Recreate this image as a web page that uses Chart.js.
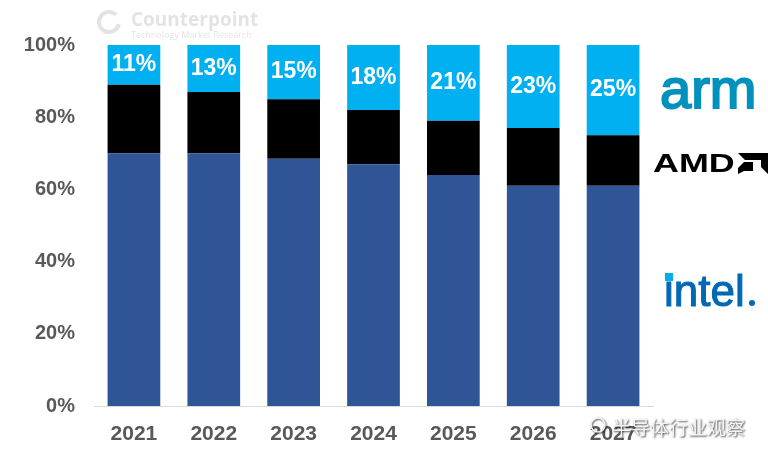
<!DOCTYPE html>
<html>
<head>
<meta charset="utf-8">
<script src="https://cdn.jsdelivr.net/npm/chart.js@4.4.1/dist/chart.umd.min.js"></script>
<style>
  html, body { margin: 0; padding: 0; background: #fff; }
  #wrap { width: 768px; height: 461px; position: relative; }
</style>
</head>
<body>
<div id="wrap"><canvas id="share"></canvas></div>
<script>
const years = ['2021', '2022', '2023', '2024', '2025', '2026', '2027'];
const intelShare = [70, 70, 68.5, 67, 64, 61, 61];
const amdShare = [19, 17, 16.5, 15, 15, 16, 14];
const armShare = [11, 13, 15, 18, 21, 23, 25];
const yTicks = [0, 20, 40, 60, 80, 100];

// white % labels inside the arm segment
const armLabels = {
  id: 'armLabels',
  afterDatasetsDraw(chart) {
    const ctx = chart.ctx;
    const meta = chart.getDatasetMeta(2);
    ctx.save();
    ctx.fillStyle = '#fff';
    ctx.font = 'bold 23px "Liberation Sans", Arial, sans-serif';
    ctx.textAlign = 'center';
    ctx.textBaseline = 'middle';
    meta.data.forEach((bar, i) => {
      const mid = (bar.y + bar.base) / 2;
      ctx.fillText(armShare[i] + '%', bar.x, mid);
    });
    ctx.restore();
  }
};

// logos on the right + watermarks
const extras = {
  id: 'extras',
  afterDraw(chart) {
    const ctx = chart.ctx;
    ctx.save();
    ctx.textBaseline = 'alphabetic';
    ctx.textAlign = 'left';

    // arm
    ctx.fillStyle = '#0091bd';
    ctx.strokeStyle = '#0091bd';
    ctx.lineWidth = 2;
    ctx.font = '56px "Liberation Sans", Arial, sans-serif';
    ctx.fillText('arm', 660, 108);
    ctx.strokeText('arm', 660, 108);

    // AMD (wide letters)
    ctx.save();
    ctx.translate(653, 172);
    ctx.scale(1.38, 1);
    ctx.fillStyle = '#000';
    ctx.font = 'bold 26px "Liberation Sans", Arial, sans-serif';
    ctx.fillText('AMD', 0, 0);
    ctx.restore();
    // AMD arrow symbol
    ctx.fillStyle = '#000';
    ctx.beginPath();
    ctx.moveTo(738, 153); ctx.lineTo(768, 153); ctx.lineTo(768, 174);
    ctx.lineTo(761, 167); ctx.lineTo(761, 160); ctx.lineTo(745, 160);
    ctx.closePath(); ctx.fill();
    ctx.beginPath();
    ctx.moveTo(744, 162); ctx.lineTo(753, 162); ctx.lineTo(753, 171);
    ctx.lineTo(744, 171); ctx.lineTo(738, 174); ctx.lineTo(738, 168);
    ctx.closePath(); ctx.fill();

    // intel
    ctx.fillStyle = '#0068b5';
    ctx.strokeStyle = '#0068b5';
    ctx.lineWidth = 1;
    ctx.font = '44px "Liberation Sans", Arial, sans-serif';
    ctx.fillText('intel', 664, 306);
    ctx.strokeText('intel', 664, 306);
    ctx.beginPath();
    ctx.arc(752, 303, 3, 0, Math.PI * 2);
    ctx.fill();
    ctx.fillStyle = '#00aeef';
    ctx.fillRect(665, 273, 8, 8);

    // Counterpoint watermark
    ctx.globalAlpha = 0.15;
    ctx.strokeStyle = '#444';
    ctx.lineWidth = 4;
    ctx.beginPath();
    ctx.arc(109, 22, 10, 0.2, Math.PI * 1.75);
    ctx.stroke();
    ctx.fillStyle = '#444';
    ctx.font = 'bold 19px "Open Sans", "Liberation Sans", sans-serif';
    ctx.fillText('Counterpoint', 131, 26);
    ctx.font = '9px "Open Sans", "Liberation Sans", sans-serif';
    ctx.fillText('Technology Market Research', 131, 38);
    ctx.globalAlpha = 1;

    // WeChat watermark
    ctx.font = '19px "Noto Sans CJK SC", sans-serif';
    ctx.fillStyle = '#f4f4f4';
    ctx.shadowColor = 'rgba(0,0,0,0.75)';
    ctx.shadowBlur = 2;
    ctx.shadowOffsetX = 1;
    ctx.shadowOffsetY = 1;
    ctx.fillText('半导体行业观察', 612, 435);
    ctx.strokeStyle = '#f4f4f4';
    ctx.lineWidth = 1.5;
    ctx.beginPath();
    ctx.arc(598, 425, 7, 0, Math.PI * 2);
    ctx.stroke();
    ctx.restore();
  }
};

new Chart(document.getElementById('share'), {
  type: 'bar',
  data: {
    labels: years,
    datasets: [
      { label: 'Intel', data: intelShare, backgroundColor: '#2f5597' },
      { label: 'AMD', data: amdShare, backgroundColor: '#000000' },
      { label: 'Arm', data: armShare, backgroundColor: '#00b0f0' }
    ]
  },
  options: {
    responsive: true,
    maintainAspectRatio: false,
    animation: false,
    layout: { padding: { top: 45, right: 115, left: 0, bottom: 0 } },
    datasets: { bar: { categoryPercentage: 1, barPercentage: 0.66 } },
    plugins: { legend: { display: false }, tooltip: { enabled: false } },
    scales: {
      x: {
        stacked: true,
        grid: { display: false },
        border: { color: '#d9d9d9', width: 1 },
        ticks: { color: '#595959', font: { family: '"Liberation Sans", Arial', size: 21, weight: 'bold' }, padding: 8 },
        afterFit(scale) { scale.height = 55; }
      },
      y: {
        stacked: true,
        min: 0,
        max: 100,
        afterBuildTicks(scale) { scale.ticks = yTicks.map(v => ({ value: v })); },
        grid: { display: false },
        border: { display: false },
        ticks: {
          color: '#595959',
          font: { family: '"Liberation Sans", Arial', size: 20, weight: 'bold' },
          padding: 11,
          callback: v => v + '%'
        },
        afterFit(scale) { scale.width = 94; }
      }
    }
  },
  plugins: [armLabels, extras]
});
</script>
</body>
</html>
